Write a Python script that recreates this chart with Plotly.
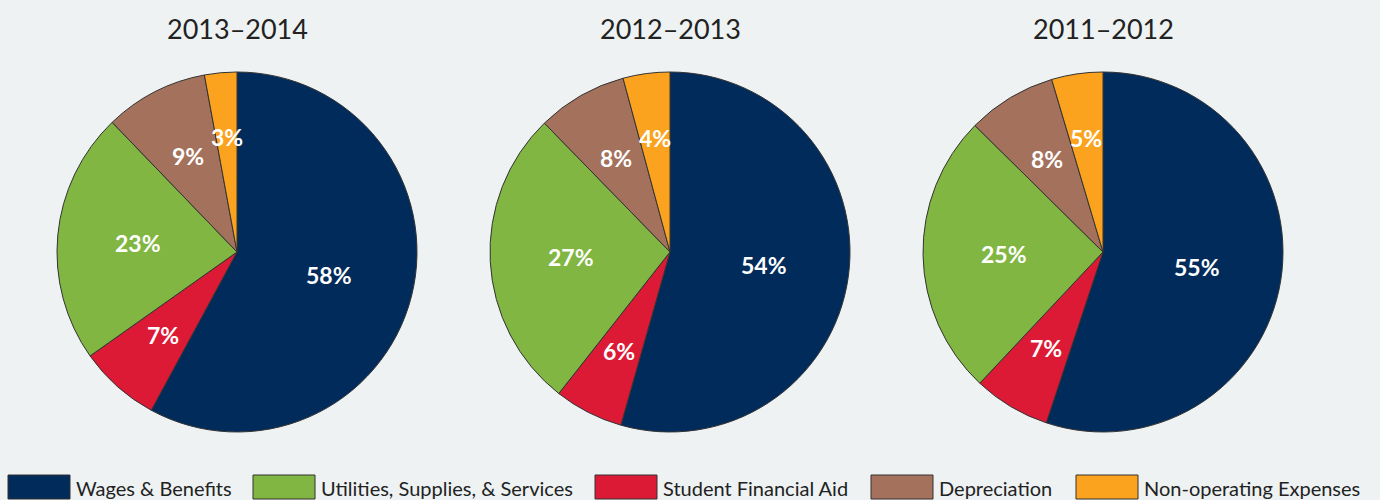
import math
import plotly.graph_objects as go

W, H = 1380, 500

categories = ["Wages & Benefits", "Student Financial Aid", "Utilities, Supplies, & Services",
              "Depreciation", "Non-operating Expenses"]
legend_order = ["Wages & Benefits", "Utilities, Supplies, & Services", "Student Financial Aid",
                "Depreciation", "Non-operating Expenses"]
colors = {
    "Wages & Benefits": "#012b5b",
    "Utilities, Supplies, & Services": "#80b641",
    "Student Financial Aid": "#dc1a35",
    "Depreciation": "#a4715c",
    "Non-operating Expenses": "#fba31e",
}
years = ["2013–2014", "2012–2013", "2011–2012"]
values_2013_2014 = [57.9, 7.3, 22.6, 9.3, 2.9]
values_2012_2013 = [54.4, 6.2, 27.1, 8.1, 4.2]
values_2011_2012 = [55.1, 6.9, 25.4, 8.0, 4.6]
all_values = [values_2013_2014, values_2012_2013, values_2011_2012]

# label placement (fraction of radius) per category -- styling only
label_radius_frac = {
    "Wages & Benefits": 0.53,
    "Utilities, Supplies, & Services": 0.55,
    "Student Financial Aid": 0.62,
    "Depreciation": 0.60,
    "Non-operating Expenses": 0.64,
}

FONT = "Lato, 'Source Sans Pro', 'Open Sans', sans-serif"

centers_x = [237, 670, 1103]
center_y = 252
radius = 180

fig = go.Figure()
for i, (yr, vals) in enumerate(zip(years, all_values)):
    cx = centers_x[i]
    fig.add_trace(go.Pie(
        labels=categories,
        values=vals,
        sort=False,
        direction="clockwise",
        rotation=0,
        marker=dict(colors=[colors[c] for c in categories], line=dict(color="#333333", width=1)),
        textinfo="none",
        hoverinfo="label+percent",
        showlegend=False,
        domain=dict(x=[(cx - radius) / W, (cx + radius) / W],
                    y=[(H - center_y - radius) / H, (H - center_y + radius) / H]),
    ))
    fig.add_annotation(x=cx / W, y=1 - 28 / H, xref="paper", yref="paper",
                       text=yr, showarrow=False,
                       font=dict(size=27, color="#222222", family=FONT),
                       xanchor="center", yanchor="middle")
    # percentage labels, placed at each slice's mid-angle
    total = sum(vals)
    cum = 0.0
    for cat, v in zip(categories, vals):
        mid = (cum + v / 2) / total
        cum += v
        theta = 2 * math.pi * mid
        rr = radius * label_radius_frac[cat]
        px = cx + rr * math.sin(theta)
        py = center_y - rr * math.cos(theta)
        fig.add_annotation(x=px / W, y=1 - py / H, xref="paper", yref="paper",
                           text="<b>%d%%</b>" % round(v / total * 100), showarrow=False,
                           xanchor="center", yanchor="middle",
                           font=dict(size=23, color="white", family=FONT))

# custom legend
legend_box_x = [8, 253, 595, 871, 1076]
box_w, box_top, box_bot = 62, 475, 499
shapes = []
for name, bx in zip(legend_order, legend_box_x):
    shapes.append(dict(type="rect", xref="paper", yref="paper",
                       x0=bx / W, x1=(bx + box_w) / W,
                       y0=1 - box_bot / H, y1=1 - box_top / H,
                       fillcolor=colors[name], line=dict(color="#333333", width=1)))
    fig.add_annotation(x=(bx + box_w + 4) / W, y=1 - 488 / H, xref="paper", yref="paper",
                       text=name, showarrow=False, xanchor="left", yanchor="middle",
                       font=dict(size=20, color="#222222", family=FONT))

fig.update_layout(
    width=W, height=H,
    margin=dict(l=0, r=0, t=0, b=0),
    paper_bgcolor="#eef2f3",
    plot_bgcolor="#eef2f3",
    shapes=shapes,
    font=dict(family=FONT),
)

fig.write_html("out.html",
               config={"displayModeBar": False},
               post_script="document.body.style.margin='0';document.body.style.background='#eef2f3';document.body.style.overflow='hidden';")
